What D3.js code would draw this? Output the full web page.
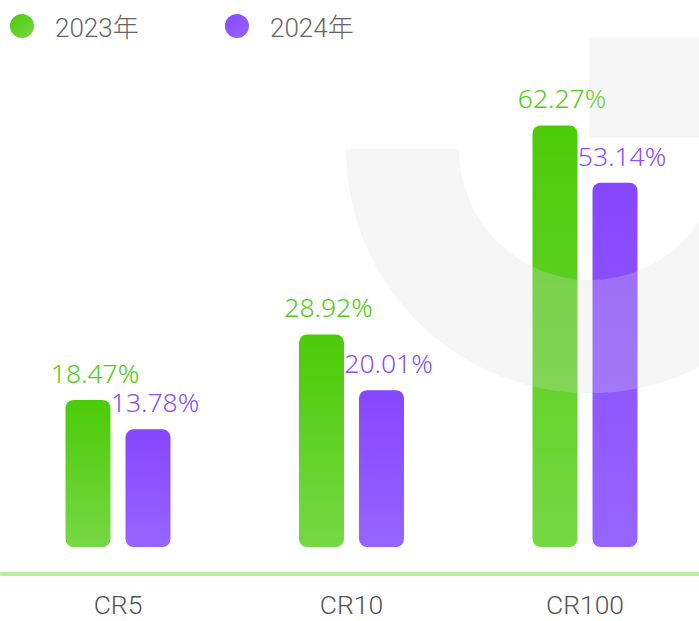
<!DOCTYPE html>
<html>
<head>
<meta charset="utf-8">
<script src="https://cdn.jsdelivr.net/npm/d3@7"></script>
<style>
  html, body { margin: 0; padding: 0; background: #fff; }
</style>
</head>
<body>
<div id="wrap"></div>
<script>
// 数据
const categories = ['CR5', 'CR10', 'CR100'];
const series = ['2023年', '2024年'];
const values2023 = [18.47, 28.92, 62.27];
const values2024 = [13.78, 20.01, 53.14];

const WIDTH = 699;
const HEIGHT = 621;
const BASE = 547; // 柱子底部
const AXIS_Y = 573.5;

const colors = {
  '2023年': ['#4bcb08', '#76d844'],
  '2024年': ['#8746ff', '#9665ff']
};
const labelColors = { '2023年': '#52cb10', '2024年': '#8850ff' };

const rows = categories.map((c, i) => ({
  cat: c,
  vals: [
    { s: series[0], v: values2023[i] },
    { s: series[1], v: values2024[i] }
  ]
}));

const svg = d3.select('#wrap')
  .append('svg')
  .attr('width', WIDTH)
  .attr('height', HEIGHT)
  .style('display', 'block')
  .style('background', '#fff');

// 渐变
const defs = svg.append('defs');
series.forEach((s, i) => {
  const g = defs.append('linearGradient')
    .attr('id', 'grad' + i)
    .attr('x1', 0).attr('y1', 0).attr('x2', 0).attr('y2', 1);
  g.append('stop').attr('offset', '0%').attr('stop-color', colors[s][0]);
  g.append('stop').attr('offset', '100%').attr('stop-color', colors[s][1]);
  const c = defs.append('linearGradient')
    .attr('id', 'dot' + i)
    .attr('x1', 0).attr('y1', 0).attr('x2', 1).attr('y2', 1);
  c.append('stop').attr('offset', '0%').attr('stop-color', colors[s][0]);
  c.append('stop').attr('offset', '100%').attr('stop-color', colors[s][1]);
});

// 比例尺
const x0 = d3.scaleBand()
  .domain(categories)
  .range([1.25, 701.75]);

const x1 = d3.scaleBand()
  .domain(series)
  .range([-52.5, 52.5])
  .paddingInner(0.25);

const y = d3.scaleLinear()
  .domain([-5, 70])
  .range([BASE, 77]);

// 柱子
const groups = svg.append('g').attr('id', 'rectGroup')
  .selectAll('g')
  .data(rows)
  .enter()
  .append('g')
  .attr('transform', d => 'translate(' + (x0(d.cat) + x0.bandwidth() / 2) + ',0)');

groups.selectAll('rect')
  .data(d => d.vals)
  .enter()
  .append('rect')
  .attr('x', d => x1(d.s))
  .attr('y', d => y(d.v))
  .attr('width', x1.bandwidth())
  .attr('height', d => BASE - y(d.v))
  .attr('rx', 8)
  .attr('fill', d => 'url(#grad' + series.indexOf(d.s) + ')');

// 背景水印 (叠加在柱子上)
const mark = svg.append('g')
  .attr('fill', '#dadada')
  .attr('opacity', 0.25);
mark.append('path')
  .attr('transform', 'translate(590,149)')
  .attr('d', d3.arc()({ innerRadius: 131, outerRadius: 244, startAngle: Math.PI / 2, endAngle: Math.PI * 1.5 }));
mark.append('rect')
  .attr('x', 589).attr('y', 37.5)
  .attr('width', 120).attr('height', 100);

// 数值
groups.selectAll('text')
  .data(d => d.vals)
  .enter()
  .append('text')
  .attr('text-anchor', 'middle')
  .attr('x', d => x1(d.s) + x1.bandwidth() / 2 + 7)
  .attr('y', d => y(d.v) - 17)
  .attr('font-family', '"Noto Sans", sans-serif')
  .attr('font-weight', 300)
  .attr('font-size', 26.5)
  .attr('fill', d => labelColors[d.s])
  .text(d => d.v.toFixed(2) + '%');

// x轴
const xAxis = d3.axisBottom(x0).tickSize(0).tickSizeOuter(0);
const axisG = svg.append('g')
  .attr('id', 'xAxis')
  .attr('transform', 'translate(0,' + AXIS_Y + ')')
  .call(xAxis);
axisG.select('.domain')
  .attr('stroke', '#b8ec9e')
  .attr('stroke-width', 4)
  .attr('stroke-linecap', 'round');
axisG.selectAll('text')
  .attr('dy', 0)
  .attr('y', 40.5)
  .attr('font-family', 'Roboto, "Noto Sans", sans-serif')
  .attr('font-weight', 300)
  .attr('font-size', 26.5)
  .attr('fill', '#555');

// 图例
const legend = svg.append('g').attr('id', 'legend')
  .selectAll('g')
  .data(series)
  .enter()
  .append('g')
  .attr('transform', (d, i) => 'translate(' + (22 + i * 215) + ',26)');
legend.append('circle')
  .attr('r', 12)
  .attr('fill', (d, i) => 'url(#dot' + i + ')');
legend.append('text')
  .attr('x', 33)
  .attr('y', 10.5)
  .attr('font-family', 'Roboto, "Noto Sans CJK SC", sans-serif')
  .attr('font-weight', 300)
  .attr('font-size', 26)
  .attr('fill', '#666')
  .text(d => d);
</script>
</body>
</html>
